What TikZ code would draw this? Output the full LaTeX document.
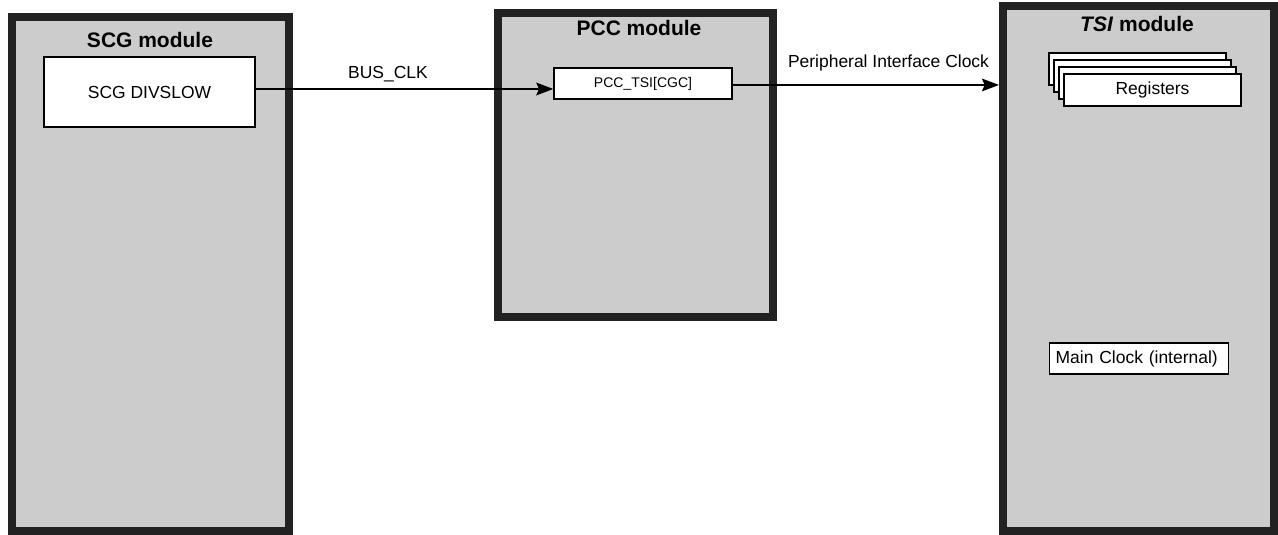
\documentclass[tikz,border=0pt]{standalone}
\usepackage{fontspec}
\setmainfont{Liberation Sans}
\usetikzlibrary{arrows.meta}
\newdimen\pxu \pxu=0.75pt
\definecolor{modfill}{HTML}{CCCCCC}
\definecolor{modline}{HTML}{222222}
\tikzset{
  module/.style={draw=modline, fill=modfill, line width=6pt, rectangle, inner sep=0pt},
  title/.style={font=\fontsize{15.75pt}{18pt}\selectfont\bfseries, inner sep=0pt},
  whitebox/.style={draw=black, fill=white, line width=1.4pt, rectangle, inner sep=0pt,
    font=\fontsize{13.1pt}{15pt}\selectfont},
  regbox/.style={draw=black, fill=white, line width=1.1pt, rectangle, inner sep=0pt,
    minimum width=177\pxu, minimum height=32\pxu},
  arr/.style={line width=1.5pt, -{Stealth[length=12.75pt,width=9.5pt,inset=2pt]}},
  lbl/.style={font=\fontsize{13.1pt}{15pt}\selectfont, inner sep=0pt}
}
\begin{document}
\begin{tikzpicture}[x=0.75pt,y=-0.75pt]
\useasboundingbox (0,0) rectangle (1278,535);
% modules
\node[module, minimum width=277\pxu, minimum height=514\pxu] (scg) at (150.5,274) {};
\node[module, minimum width=275\pxu, minimum height=304\pxu] (pcc) at (635.5,165) {};
\node[module, minimum width=271\pxu, minimum height=525\pxu] (tsi) at (1138.5,268.5) {};
% titles
\node[title] (scgt) at (150,40) {SCG module};
\node[title] (pcct) at (639,28) {PCC module};
\node[title] (tsit) at (1137,23.5) {\textit{TSI} module};
% inner boxes
\node[whitebox, line width=1.5pt, minimum width=211\pxu, minimum height=70\pxu] (divslow) at (149.5,92) {SCG DIVSLOW};
\node[whitebox, line width=1pt, font=\fontsize{10.5pt}{12pt}\selectfont, minimum width=178\pxu, minimum height=31\pxu] (pcctsi) at (643,83.5) {PCC\_TSI[CGC]};
% registers stack
\node[regbox] (reg1) at (1137.5,69) {};
\node[regbox] (reg2) at (1142.5,76) {};
\node[regbox] (reg3) at (1147.5,83) {};
\node[regbox, font=\fontsize{13.1pt}{15pt}\selectfont] (reg4) at (1152.5,90) {Registers};
% main clock
\node[whitebox, line width=1pt, anchor=west, minimum height=31\pxu, text width=167\pxu, inner xsep=6\pxu, align=left] (mainclk) at (1049,358.5) {Main Clock (internal)};
% connectors
\draw[arr] ([yshift=2.25pt]divslow.east) coordinate (a1) -- (a1 -| pcctsi.west);
\node[lbl] (buslbl) at (388,74) {BUS\_CLK};
\draw[arr] ([yshift=-1.1pt]pcctsi.east) coordinate (a2) -- (a2 -| tsi.west);
\node[lbl] (perlbl) at (888.5,63) {Peripheral Interface Clock};
\end{tikzpicture}
\end{document}
